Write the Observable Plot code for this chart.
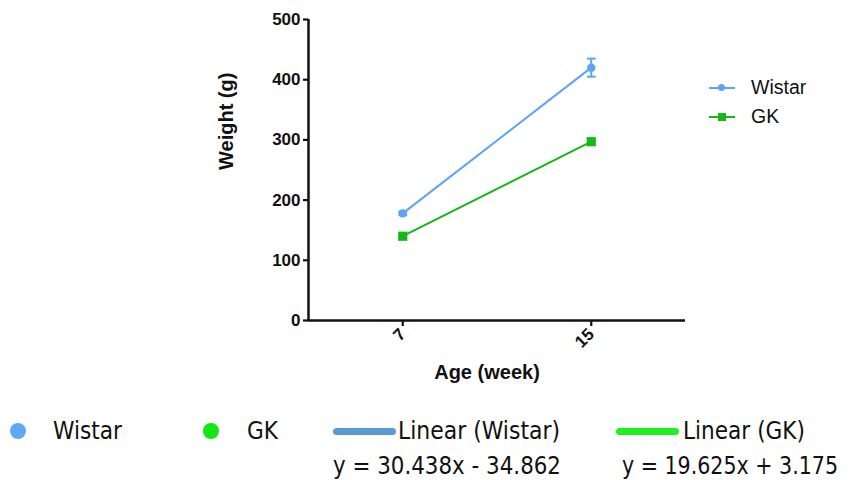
<!DOCTYPE html>
<html>
<head>
<meta charset="utf-8">
<script src="https://cdn.jsdelivr.net/npm/d3@7"></script>
<script src="https://cdn.jsdelivr.net/npm/@observablehq/plot@0.6"></script>
<style>
  html, body { margin: 0; padding: 0; background: #fff; }
  #wrap { position: relative; width: 857px; height: 480px; overflow: hidden; }
  #chart { position: absolute; left: 0; top: 0; }
  #chart svg [aria-label="y-axis tick label"], #chart svg [aria-label="x-axis tick label"] { font-size: 17px; font-weight: bold; }
  .leg { position: absolute; font-family: "Liberation Sans", Arial, sans-serif; font-size: 19.5px; color: #111; }
  .leg .row { display: flex; align-items: center; height: 29px; }
  .leg .sw { position: relative; width: 26px; height: 2px; margin-right: 16px; }
  .leg .mk { position: absolute; left: 9px; top: -3px; width: 8px; height: 8px; }
  .bot { position: absolute; font-family: "DejaVu Sans Condensed", "DejaVu Sans", sans-serif; font-size: 25px; line-height: 24px; color: #111; white-space: nowrap; transform-origin: 0 50%; }
  .shape { position: absolute; }
</style>
</head>
<body>
<div id="wrap">
  <div id="chart"></div>
</div>
<script>
const ages = [7, 15];
const wistarMean = [178, 420];
const wistarErr = [3, 15];
const gkMean = [140, 297];
const gkErr = [2, 3];
const yTicks = [0, 100, 200, 300, 400, 500];
const xTicks = [7, 15];
const seriesNames = ["Wistar", "GK"];
const seriesColors = ["#5aa5f5", "#16b816"];
const trendLabels = ["Linear (Wistar)", "Linear (GK)"];
const trendEquations = ["y = 30.438x - 34.862", "y = 19.625x + 3.175"];
const trendColors = ["#5b9bd5", "#1ff01f"];
const dotColors = ["#5ea8f5", "#10e810"];

const wistar = ages.map((a, i) => ({age: a, mean: wistarMean[i], err: wistarErr[i]}));
const gk = ages.map((a, i) => ({age: a, mean: gkMean[i], err: gkErr[i]}));

const capSymbol = {
  draw(ctx, size) {
    const r = Math.sqrt(size) / 2;
    ctx.moveTo(-r, 0);
    ctx.lineTo(r, 0);
  }
};

const chart = Plot.plot({
  width: 857,
  height: 400,
  marginLeft: 308,
  marginRight: 172,
  marginTop: 19,
  marginBottom: 80,
  style: {fontFamily: "Liberation Sans, Arial, sans-serif", fontSize: "17px", fontWeight: "bold", color: "#111", background: "transparent"},
  x: {domain: [3, 19]},
  y: {domain: [0, 500]},
  marks: [
    Plot.axisY({ticks: yTicks, tickSize: 5, tickPadding: 3, label: null, strokeWidth: 2.2}),
    Plot.axisX({ticks: xTicks, tickSize: 6, tickPadding: 5, tickRotate: -45, label: null, strokeWidth: 2.2}),
    Plot.ruleY([0], {strokeWidth: 2.5, stroke: "#111"}),
    Plot.ruleX([3], {strokeWidth: 2.5, stroke: "#111"}),
    // error bars
    Plot.ruleX(wistar, {x: "age", y1: d => d.mean - d.err, y2: d => d.mean + d.err, stroke: seriesColors[0], strokeWidth: 2}),
    Plot.dot(wistar, {x: "age", y: d => d.mean - d.err, symbol: capSymbol, r: 5, stroke: seriesColors[0], strokeWidth: 2}),
    Plot.dot(wistar, {x: "age", y: d => d.mean + d.err, symbol: capSymbol, r: 5, stroke: seriesColors[0], strokeWidth: 2}),
    Plot.ruleX(gk, {x: "age", y1: d => d.mean - d.err, y2: d => d.mean + d.err, stroke: seriesColors[1], strokeWidth: 2}),
    // lines
    Plot.line(wistar, {x: "age", y: "mean", stroke: seriesColors[0], strokeWidth: 2}),
    Plot.line(gk, {x: "age", y: "mean", stroke: seriesColors[1], strokeWidth: 2}),
    Plot.dot(wistar, {x: "age", y: "mean", r: 4.2, fill: seriesColors[0], stroke: "none"}),
    Plot.dot(gk, {x: "age", y: "mean", symbol: "square", r: 5.2, fill: seriesColors[1], stroke: "none"}),
    // axis titles
    Plot.text(["Weight (g)"], {frameAnchor: "left", dx: -82, rotate: -90, text: d => d, fontSize: 20, fontWeight: "bold", fill: "#111"}),
    Plot.text(["Age (week)"], {frameAnchor: "bottom", dx: -10, dy: 58, text: d => d, fontSize: 20, fontWeight: "bold", fill: "#111"})
  ]
});
document.getElementById("chart").appendChild(chart);

const wrap = document.getElementById("wrap");
// top-right legend
const leg = document.createElement("div");
leg.className = "leg";
leg.style.left = "709px";
leg.style.top = "73px";
seriesNames.forEach((n, i) => {
  const row = document.createElement("div");
  row.className = "row";
  const sw = document.createElement("div");
  sw.className = "sw";
  sw.style.background = seriesColors[i];
  const mk = document.createElement("div");
  mk.className = "mk";
  mk.style.background = seriesColors[i];
  if (i === 0) { mk.style.borderRadius = "50%"; mk.style.width = "7px"; mk.style.height = "7px"; mk.style.top = "-2.5px"; }
  sw.appendChild(mk);
  const t = document.createElement("span");
  t.textContent = n;
  row.appendChild(sw);
  row.appendChild(t);
  leg.appendChild(row);
});
wrap.appendChild(leg);

// bottom legend (text fitted horizontally to the reference widths)
function addText(left, top, width, txt) {
  const d = document.createElement("div");
  d.className = "bot";
  d.style.left = left + "px";
  d.style.top = top + "px";
  d.textContent = txt;
  wrap.appendChild(d);
  const w = d.getBoundingClientRect().width;
  if (w > 0) d.style.transform = `scaleX(${width / w})`;
}
function addShape(left, top, w, h, color, radius) {
  const d = document.createElement("div");
  d.className = "shape";
  Object.assign(d.style, {left: left + "px", top: top + "px", width: w + "px", height: h + "px", background: color, borderRadius: radius});
  wrap.appendChild(d);
}
const dotLeft = [10, 203];
const nameLeft = [53, 247];
const nameWidth = [69, 31];
seriesNames.forEach((n, i) => {
  addShape(dotLeft[i], 423, 16, 16, dotColors[i], "50%");
  addText(nameLeft[i], 418.5, nameWidth[i], n);
});
const lineLeft = [333, 616];
const labelLeft = [398, 683];
const labelWidth = [162, 122];
const eqLeft = [333, 622];
const eqWidth = [228, 216];
trendLabels.forEach((n, i) => {
  addShape(lineLeft[i], 428, 63, 7, trendColors[i], "4px");
  addText(labelLeft[i], 418.5, labelWidth[i], n);
  addText(eqLeft[i], 453.5, eqWidth[i], trendEquations[i]);
});
</script>
</body>
</html>
